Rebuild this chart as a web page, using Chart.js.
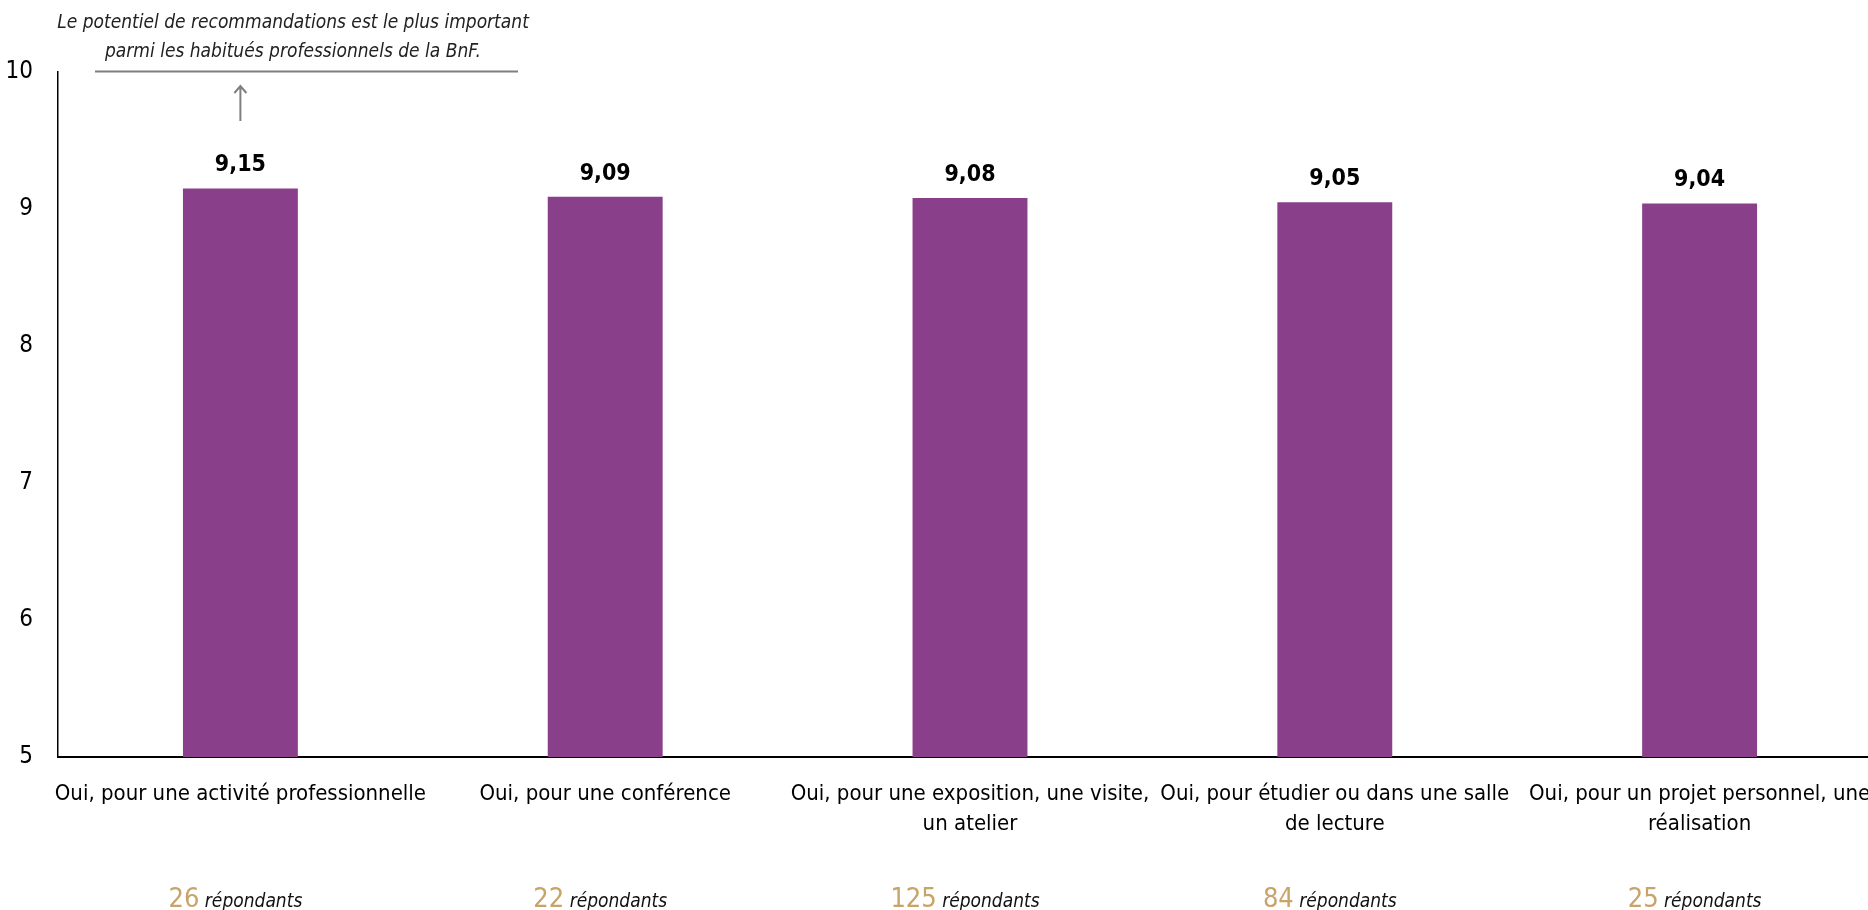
<!DOCTYPE html>
<html>
<head>
<meta charset="utf-8">
<script src="https://cdn.jsdelivr.net/npm/chart.js@4.4.1/dist/chart.umd.min.js"></script>
<style>
    html, body { margin: 0; padding: 0; background: #fff; overflow: hidden; }
    #wrap { position: relative; width: 1882px; height: 910px; }
    canvas { display: block; }
</style>
</head>
<body>
<div id="wrap"><canvas id="scoreChart" width="1882" height="910"></canvas></div>
<script>
// Donnees du graphique
const categories = [
    'Oui, pour une activité professionnelle',
    'Oui, pour une conférence',
    ['Oui, pour une exposition, une visite,', 'un atelier'],
    ['Oui, pour étudier ou dans une salle', 'de lecture'],
    ['Oui, pour un projet personnel, une', 'réalisation']
];
const scores = [9.15, 9.09, 9.08, 9.05, 9.04];
const respondents = [26, 22, 125, 84, 25];
const yTicks = [5, 6, 7, 8, 9, 10];
const noteLines = [
    'Le potentiel de recommandations est le plus important',
    'parmi les habitués professionnels de la BnF.'
];

const FONT = '"Liberation Sans Narrow", "Arial Narrow", "DejaVu Sans Condensed", sans-serif';
const BAR_COLOR = '#893F8A';
const GOLD = '#C6A46A';

// Etiquettes de valeur au-dessus des barres
const valueLabels = {
    id: 'valueLabels',
    afterDatasetsDraw: function(chart) {
        const ctx = chart.ctx;
        const meta = chart.getDatasetMeta(0);
        ctx.save();
        ctx.font = 'bold 23px ' + FONT;
        ctx.fillStyle = '#000';
        ctx.textAlign = 'center';
        ctx.textBaseline = 'middle';
        meta.data.forEach(function(bar, i) {
            ctx.fillText(scores[i].toFixed(2).replace('.', ','), bar.x, bar.y - 23);
        });
        ctx.restore();
    }
};

// Nombre de repondants sous chaque categorie
const respondentLabels = {
    id: 'respondentLabels',
    afterDraw: function(chart) {
        const ctx = chart.ctx;
        const xScale = chart.scales.x;
        ctx.save();
        ctx.textBaseline = 'alphabetic';
        respondents.forEach(function(n, i) {
            const cx = xScale.getPixelForValue(i) - 5;
            const numText = String(n);
            const word = ' répondants';
            ctx.font = '27px ' + FONT;
            const w1 = ctx.measureText(numText).width;
            ctx.font = 'italic 19px ' + FONT;
            const w2 = ctx.measureText(word).width;
            const x = cx - (w1 + w2) / 2;
            ctx.textAlign = 'left';
            ctx.font = '27px ' + FONT;
            ctx.fillStyle = GOLD;
            ctx.fillText(numText, x, 907);
            ctx.font = 'italic 19px ' + FONT;
            ctx.fillStyle = '#111';
            ctx.fillText(word, x + w1, 907);
        });
        ctx.restore();
    }
};

// Commentaire en haut a gauche avec fleche
const noteAnnotation = {
    id: 'noteAnnotation',
    afterDraw: function(chart) {
        const ctx = chart.ctx;
        const xScale = chart.scales.x;
        const yScale = chart.scales.y;
        const arrowX = xScale.getPixelForValue(0);
        const lineY = yScale.getPixelForValue(10) - 0.5;
        ctx.save();
        ctx.font = 'italic 19px ' + FONT;
        ctx.fillStyle = '#222';
        ctx.textAlign = 'center';
        ctx.textBaseline = 'middle';
        ctx.fillText(noteLines[0], 293, 23);
        ctx.fillText(noteLines[1], 293, 52);

        ctx.strokeStyle = '#7F7F7F';
        ctx.lineWidth = 2;
        ctx.beginPath();
        ctx.moveTo(95, lineY);
        ctx.lineTo(518, lineY);
        ctx.stroke();

        // fleche
        ctx.lineWidth = 2;
        ctx.beginPath();
        ctx.moveTo(arrowX, 121);
        ctx.lineTo(arrowX, 86);
        ctx.moveTo(arrowX - 6, 93);
        ctx.lineTo(arrowX, 86);
        ctx.lineTo(arrowX + 6, 93);
        ctx.stroke();
        ctx.restore();
    }
};

document.addEventListener('DOMContentLoaded', function() {
    const ctx = document.getElementById('scoreChart').getContext('2d');
    new Chart(ctx, {
        type: 'bar',
        data: {
            labels: categories,
            datasets: [{
                data: scores,
                backgroundColor: BAR_COLOR,
                borderWidth: 0,
                barPercentage: 1,
                categoryPercentage: 0.315
            }]
        },
        options: {
            responsive: false,
            animation: false,
            devicePixelRatio: 1,
            layout: { padding: { top: 72, left: 0, right: 0, bottom: 0 } },
            plugins: {
                legend: { display: false },
                tooltip: { enabled: false }
            },
            scales: {
                x: {
                    grid: { display: false, drawTicks: false },
                    border: { display: true, color: '#000', width: 2 },
                    ticks: {
                        color: '#000',
                        font: { family: FONT, size: 22, lineHeight: 1.36 },
                        padding: 22,
                        maxRotation: 0,
                        autoSkip: false
                    },
                    afterFit: function(scale) {
                        scale.height = 153;
                        // pas de marge pour les libelles qui debordent
                        scale.paddingLeft = 0;
                        scale.paddingRight = 0;
                    }
                },
                y: {
                    min: yTicks[0],
                    max: yTicks[yTicks.length - 1],
                    grid: { display: false, drawTicks: false },
                    border: { display: true, color: '#000', width: 1.5 },
                    ticks: {
                        stepSize: 1,
                        color: '#000',
                        font: { family: FONT, size: 24 },
                        padding: 25
                    },
                    afterFit: function(scale) { scale.width = 58; }
                }
            }
        },
        plugins: [valueLabels, respondentLabels, noteAnnotation]
    });
});
</script>
</body>
</html>
